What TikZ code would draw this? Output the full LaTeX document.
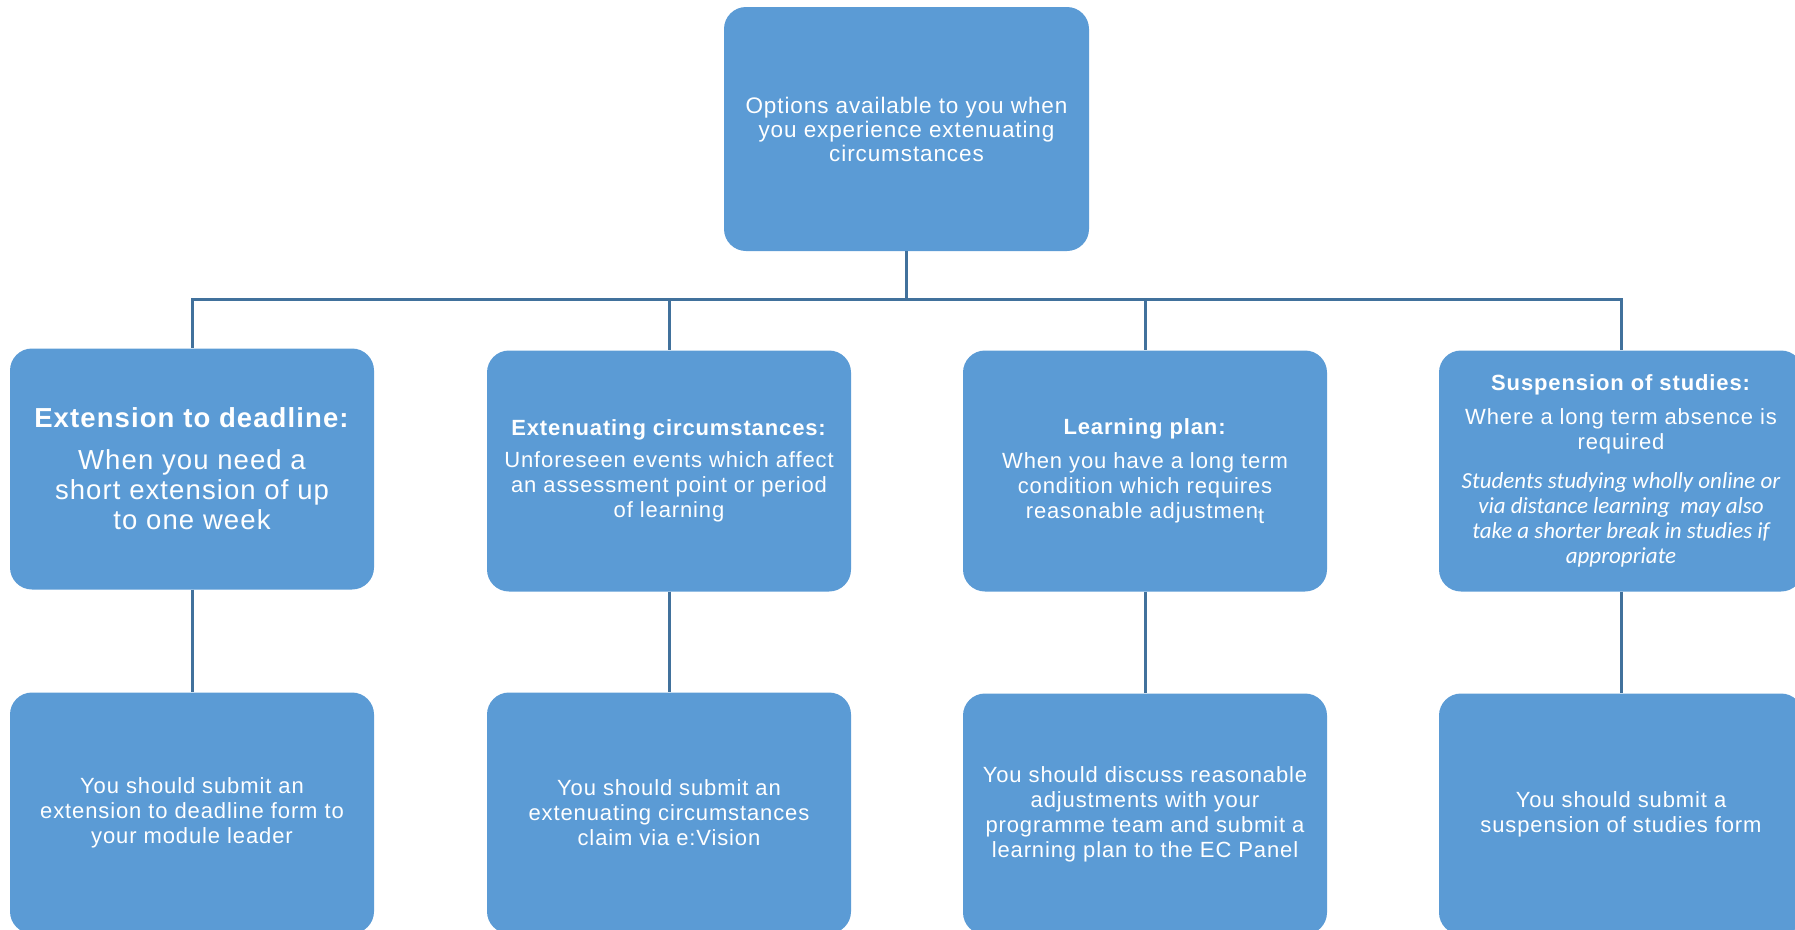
\documentclass[tikz,border=0pt]{standalone}
\usepackage{fontspec}
\setmainfont{Liberation Sans}[LetterSpace=4]
\newfontfamily\calibri{Carlito}
\definecolor{boxblue}{HTML}{5B9BD5}
\definecolor{lineblue}{HTML}{41719C}
\newcommand\shortnote[1]{{\calibri\itshape\fontsize{23}{25}\selectfont #1}}
\begin{document}
\begin{tikzpicture}[x=1pt,y=-1pt,
  box/.style={fill=boxblue,text=white,rounded corners=22pt,align=center,
    minimum width=364pt,minimum height=241pt,inner sep=0pt,
    font=\fontsize{22}{25}\selectfont},
  link/.style={draw=lineblue,line width=3pt}]
\useasboundingbox (0,0) rectangle (1795,929);

\node[box,minimum width=365pt,minimum height=244pt,font=\fontsize{22.5}{24}\selectfont] (top) at (906.5,129)
  {Options available to you when\\you experience extenuating\\circumstances};

\node[box,font=\fontsize{27.5}{30}\selectfont] (ext) at (192,469)
  {\textbf{Extension to deadline:}\\[12pt]When you need a\\short extension of up\\to one week};
\node[box] (ecs) at (669,471)
  {\textbf{Extenuating circumstances:}\\[7pt]Unforeseen events which affect\\an assessment point or period\\of learning};
\node[box] (plan) at (1145,471)
  {\textbf{Learning plan:}\\[9pt]When you have a long term\\condition which requires\\reasonable adjustmen\raisebox{-5pt}{t}};
\node[box] (susp) at (1621,471)
  {\textbf{Suspension of studies:}\\[9pt]Where a long term absence is\\required\\[14pt]
   \shortnote{Students studying wholly online or}\\\shortnote{via distance learning\ \ may also}\\
   \shortnote{take a shorter break in studies if}\\\shortnote{appropriate}};

\node[box] (extform) at (192,813)
  {You should submit an\\extension to deadline form to\\your module leader};
\node[box] (ecclaim) at (669,813)
  {You should submit an\\extenuating circumstances\\claim via e:Vision};
\node[box] (planform) at (1145,814)
  {You should discuss reasonable\\adjustments with your\\programme team and submit a\\learning plan to the EC Panel};
\node[box] (suspform) at (1621,814)
  {You should submit a\\suspension of studies form};

\coordinate (bar) at (0,299);
\draw[link] (top.south) -- (top.south |- bar) -| (ext.north);
\draw[link] (top.south) -- (top.south |- bar) -| (ecs.north);
\draw[link] (top.south) -- (top.south |- bar) -| (plan.north);
\draw[link] (top.south) -- (top.south |- bar) -| (susp.north);

\draw[link] (ext.south) -- (extform.north);
\draw[link] (ecs.south) -- (ecclaim.north);
\draw[link] (plan.south) -- (planform.north);
\draw[link] (susp.south) -- (suspform.north);
\end{tikzpicture}
\end{document}
